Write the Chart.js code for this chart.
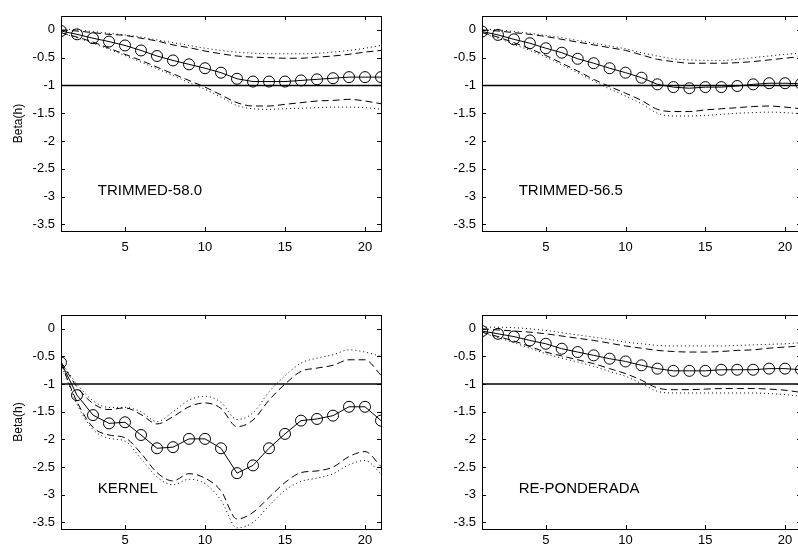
<!DOCTYPE html>
<html lang="pt-br">
<head>
<meta charset="UTF-8">
<title>Beta(h)</title>
<script src="https://cdn.jsdelivr.net/npm/chart.js"></script>
<style>
  body { margin: 0; width: 798px; height: 545px; overflow: hidden; position: relative; background: #fff; }
  canvas { position: absolute; }
</style>
</head>
<body>
<canvas id="g1" width="400" height="272" style="left:0;top:0"></canvas>
<canvas id="g2" width="420" height="272" style="left:398px;top:0"></canvas>
<canvas id="g3" width="400" height="273" style="left:0;top:272px"></canvas>
<canvas id="g4" width="420" height="273" style="left:398px;top:272px"></canvas>

<script>
// horizonte h = 1..21
const horizontes = [1,2,3,4,5,6,7,8,9,10,11,12,13,14,15,16,17,18,19,20,21];
const xTicks = [5, 10, 15, 20];
const yTicks = [-3.5, -3, -2.5, -2, -1.5, -1, -0.5, 0];
const nivelRef = -1;

// TRIMMED-58.0
const est58   = [-0.02,-0.08,-0.15,-0.21,-0.28,-0.37,-0.47,-0.55,-0.62,-0.69,-0.77,-0.88,-0.93,-0.93,-0.93,-0.91,-0.89,-0.87,-0.85,-0.85,-0.85];
const supTr58 = [0.00,-0.02,-0.05,-0.08,-0.10,-0.15,-0.20,-0.27,-0.32,-0.38,-0.43,-0.47,-0.49,-0.50,-0.51,-0.51,-0.49,-0.47,-0.44,-0.40,-0.37];
const supPt58 = [0.02,0.00,-0.03,-0.06,-0.09,-0.13,-0.18,-0.23,-0.28,-0.33,-0.37,-0.40,-0.42,-0.43,-0.43,-0.43,-0.42,-0.40,-0.37,-0.33,-0.28];
const infTr58 = [-0.05,-0.13,-0.22,-0.33,-0.44,-0.55,-0.67,-0.79,-0.91,-1.03,-1.17,-1.31,-1.37,-1.37,-1.34,-1.31,-1.28,-1.27,-1.25,-1.28,-1.33];
const infPt58 = [-0.06,-0.14,-0.24,-0.35,-0.46,-0.58,-0.70,-0.82,-0.95,-1.07,-1.21,-1.36,-1.42,-1.43,-1.42,-1.41,-1.40,-1.39,-1.39,-1.40,-1.43];

// TRIMMED-56.5
const est565   = [-0.03,-0.09,-0.17,-0.24,-0.33,-0.41,-0.52,-0.60,-0.69,-0.77,-0.86,-0.98,-1.03,-1.05,-1.03,-1.03,-1.01,-0.98,-0.96,-0.96,-0.97];
const supTr565 = [0.00,-0.02,-0.05,-0.08,-0.12,-0.17,-0.22,-0.27,-0.32,-0.37,-0.45,-0.53,-0.57,-0.60,-0.60,-0.60,-0.59,-0.57,-0.54,-0.51,-0.48];
const supPt565 = [0.02,0.00,-0.03,-0.06,-0.10,-0.14,-0.19,-0.24,-0.29,-0.34,-0.41,-0.47,-0.52,-0.54,-0.55,-0.55,-0.53,-0.50,-0.47,-0.44,-0.42];
const infTr565 = [-0.05,-0.13,-0.23,-0.34,-0.46,-0.60,-0.74,-0.89,-1.02,-1.14,-1.27,-1.43,-1.47,-1.47,-1.44,-1.42,-1.40,-1.38,-1.37,-1.39,-1.42];
const infPt565 = [-0.06,-0.15,-0.26,-0.37,-0.49,-0.63,-0.77,-0.92,-1.06,-1.19,-1.33,-1.50,-1.55,-1.55,-1.54,-1.52,-1.50,-1.49,-1.48,-1.49,-1.51];

// KERNEL
const estKer   = [-0.61,-1.20,-1.56,-1.71,-1.69,-1.92,-2.16,-2.14,-1.99,-1.99,-2.16,-2.61,-2.47,-2.16,-1.90,-1.66,-1.63,-1.57,-1.41,-1.41,-1.66];
const supTrKer = [-0.60,-1.05,-1.35,-1.46,-1.43,-1.55,-1.72,-1.59,-1.41,-1.34,-1.44,-1.77,-1.65,-1.29,-1.00,-0.77,-0.71,-0.66,-0.56,-0.56,-0.84];
const supPtKer = [-0.60,-1.00,-1.30,-1.42,-1.42,-1.50,-1.68,-1.50,-1.29,-1.22,-1.33,-1.64,-1.52,-1.14,-0.85,-0.62,-0.53,-0.47,-0.38,-0.42,-0.50];
const infTrKer = [-0.62,-1.32,-1.78,-1.92,-1.97,-2.25,-2.60,-2.75,-2.62,-2.70,-2.93,-3.44,-3.32,-3.05,-2.78,-2.60,-2.57,-2.50,-2.31,-2.22,-2.49];
const infPtKer = [-0.63,-1.36,-1.82,-1.98,-2.03,-2.35,-2.68,-2.82,-2.72,-2.80,-3.10,-3.60,-3.50,-3.20,-2.92,-2.76,-2.70,-2.62,-2.46,-2.38,-2.62];

// RE-PONDERADA
const estRep   = [-0.04,-0.09,-0.14,-0.21,-0.27,-0.36,-0.42,-0.48,-0.54,-0.59,-0.66,-0.72,-0.76,-0.76,-0.76,-0.74,-0.74,-0.74,-0.72,-0.72,-0.74];
const supTrRep = [0.00,-0.02,-0.04,-0.06,-0.09,-0.13,-0.17,-0.21,-0.26,-0.31,-0.35,-0.39,-0.41,-0.42,-0.42,-0.41,-0.39,-0.38,-0.35,-0.33,-0.31];
const supPtRep = [0.03,0.03,0.02,0.00,-0.03,-0.07,-0.11,-0.15,-0.19,-0.24,-0.27,-0.30,-0.31,-0.31,-0.31,-0.31,-0.30,-0.29,-0.28,-0.27,-0.25];
const infTrRep = [-0.06,-0.14,-0.22,-0.32,-0.42,-0.49,-0.56,-0.63,-0.72,-0.81,-0.93,-1.07,-1.10,-1.10,-1.09,-1.08,-1.08,-1.08,-1.09,-1.11,-1.15];
const infPtRep = [-0.07,-0.16,-0.25,-0.35,-0.45,-0.53,-0.60,-0.68,-0.77,-0.86,-0.99,-1.13,-1.16,-1.16,-1.16,-1.16,-1.16,-1.16,-1.17,-1.19,-1.22];

Chart.defaults.font.family = 'Arial, "Liberation Sans", sans-serif';
Chart.defaults.font.size = 13;
Chart.defaults.color = '#000';
Chart.defaults.animation = false;

const pontos = vals => vals.map((v, i) => ({ x: horizontes[i], y: v }));

// caixa + ticks para dentro + rótulo do painel
const moldura = {
    id: 'moldura',
    afterDatasetsDraw(chart, args, opts) {
        const { ctx, chartArea: a, scales: { x, y } } = chart;
        ctx.save();
        ctx.strokeStyle = '#000';
        ctx.lineWidth = 1;
        ctx.strokeRect(Math.round(a.left) + 0.5, Math.round(a.top) + 0.5,
                       Math.round(a.width), Math.round(a.height));
        ctx.beginPath();
        xTicks.forEach(v => {
            const px = Math.round(x.getPixelForValue(v)) + 0.5;
            ctx.moveTo(px, a.bottom); ctx.lineTo(px, a.bottom - 4);
            ctx.moveTo(px, a.top); ctx.lineTo(px, a.top + 4);
        });
        yTicks.forEach(v => {
            const py = Math.round(y.getPixelForValue(v)) + 0.5;
            ctx.moveTo(a.left, py); ctx.lineTo(a.left + 4, py);
            ctx.moveTo(a.right, py); ctx.lineTo(a.right - 4, py);
        });
        ctx.stroke();
        ctx.font = '15px Arial, "Liberation Sans", sans-serif';
        ctx.fillStyle = '#000';
        ctx.textBaseline = 'middle';
        ctx.fillText(opts.texto, x.getPixelForValue(3.3), y.getPixelForValue(-2.9));
        ctx.restore();
    }
};

function criarPainel(id, texto, est, supTr, supPt, infTr, infPt, cfg) {
    const tracejado = (d) => ({ data: pontos(d), borderColor: '#000', borderWidth: 1,
        borderDash: [7, 4], pointRadius: 0, cubicInterpolationMode: 'monotone' });
    const pontilhado = (d) => ({ data: pontos(d), borderColor: '#000', borderWidth: 1,
        borderDash: [1, 3], pointRadius: 0, cubicInterpolationMode: 'monotone' });

    new Chart(document.getElementById(id), {
        type: 'line',
        data: {
            datasets: [
                { data: pontos(est), borderColor: '#000', borderWidth: 1, tension: 0,
                  pointRadius: 5.5, pointBorderWidth: 1, pointBorderColor: '#000',
                  pointBackgroundColor: 'rgba(0,0,0,0)' },
                { data: [{ x: horizontes[0], y: nivelRef }, { x: horizontes[horizontes.length - 1], y: nivelRef }],
                  borderColor: '#000', borderWidth: 1.5, pointRadius: 0 },
                tracejado(supTr), tracejado(infTr),
                pontilhado(supPt), pontilhado(infPt)
            ]
        },
        options: {
            responsive: false,
            devicePixelRatio: 1,
            layout: { padding: { top: cfg.topo, right: cfg.direita, left: 0, bottom: 0 } },
            plugins: { legend: { display: false }, tooltip: { enabled: false }, moldura: { texto } },
            scales: {
                x: {
                    type: 'linear', min: 1, max: 21,
                    afterBuildTicks: s => { s.ticks = xTicks.map(v => ({ value: v })); },
                    afterFit: s => { s.height = cfg.altX; },
                    grid: { display: false, drawTicks: false }, border: { display: false },
                    ticks: { padding: cfg.padX, autoSkip: false, maxRotation: 0, callback: v => String(v) }
                },
                y: {
                    min: -3.62, max: 0.25,
                    afterBuildTicks: s => { s.ticks = yTicks.map(v => ({ value: v })); },
                    afterFit: s => { s.width = cfg.largY; },
                    grid: { display: false, drawTicks: false }, border: { display: false },
                    ticks: { padding: 6, callback: v => String(v) },
                    title: { display: cfg.rotulo, text: 'Beta(h)', font: { size: 12 }, padding: { top: 11, bottom: 0 } }
                }
            }
        },
        plugins: [moldura]
    });
}

criarPainel('g1', 'TRIMMED-58.0', est58, supTr58, supPt58, infTr58, infPt58,
    { topo: 16, direita: 19, altX: 41, largY: 61, padX: 9, rotulo: true });
criarPainel('g2', 'TRIMMED-56.5', est565, supTr565, supPt565, infTr565, infPt565,
    { topo: 16, direita: 17, altX: 41, largY: 84, padX: 9, rotulo: false });
criarPainel('g3', 'KERNEL', estKer, supTrKer, supPtKer, infTrKer, infPtKer,
    { topo: 43, direita: 19, altX: 16, largY: 61, padX: 4, rotulo: true });
criarPainel('g4', 'RE-PONDERADA', estRep, supTrRep, supPtRep, infTrRep, infPtRep,
    { topo: 43, direita: 17, altX: 16, largY: 84, padX: 4, rotulo: false });
</script>
</body>
</html>
